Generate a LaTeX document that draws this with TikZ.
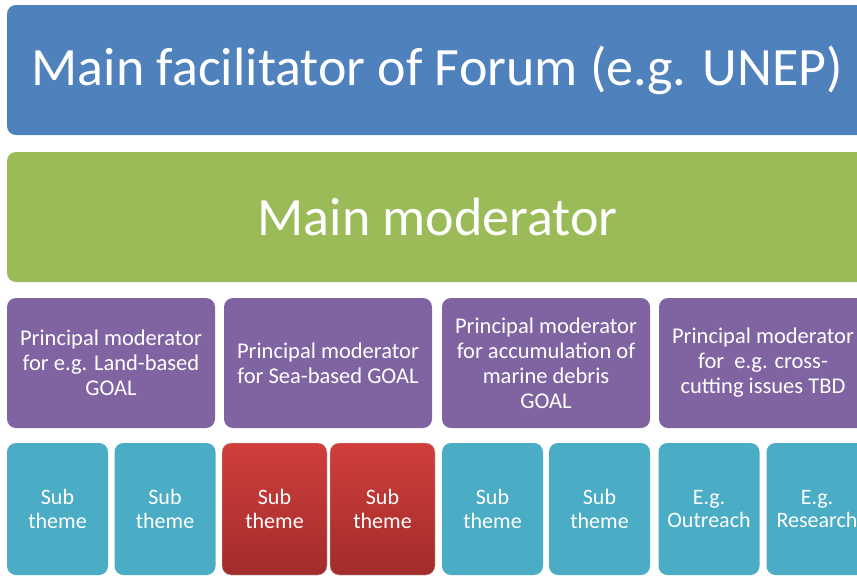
\documentclass[tikz,border=0pt]{standalone}
\usepackage{fontspec}
\setmainfont{Carlito}
\usepackage{tikz}
\usetikzlibrary{positioning}
\definecolor{FacBlue}{HTML}{4F81BD}
\definecolor{ModGreen}{HTML}{9BBB59}
\definecolor{GoalPurple}{HTML}{8064A2}
\definecolor{ThemeTeal}{HTML}{4BACC6}
\definecolor{ThemeRedTop}{HTML}{D03E3B}
\definecolor{ThemeRedBot}{HTML}{A22C2A}

\begin{document}
\begin{tikzpicture}[
      x=1pt, y=-1pt,
      every node/.style={align=center, text=white, inner sep=0pt},
      bar/.style={fill=#1, rounded corners=9pt, minimum width=861pt, minimum height=130pt,
        font=\fontsize{54}{60}\selectfont},
      goal/.style={fill=GoalPurple, rounded corners=9pt, minimum width=208pt, minimum height=130pt,
        font=\fontsize{22.5}{25}\selectfont},
      theme/.style={fill=ThemeTeal, rounded corners=9pt, minimum width=101pt, minimum height=132pt,
        font=\fontsize{22}{23.5}\selectfont},
      redtheme/.style={theme, top color=ThemeRedTop, bottom color=ThemeRedBot, draw=black!15}
    ]
      \useasboundingbox (0,0) rectangle (857,576);
      \clip (0,0) rectangle (857,576);

      \node[bar=FacBlue] (facilitator) at (437.5,70) {Main facilitator of Forum (e.g. UNEP)};
      \node[bar=ModGreen] (moderator) at (437.5,217) {Main moderator};

      % principal moderators
      \node[goal] (land) at (111,363) {Principal moderator\\for e.g. Land-based\\GOAL};
      \node[goal] (sea) at (328,363) {Principal moderator\\for Sea-based GOAL};
      \node[goal] (debris) at (546,363) {Principal moderator\\for accumulation of\\marine debris\\GOAL};
      \node[goal] (cross) at (763,363) {Principal moderator\\for\ \ e.g. cross-\\cutting issues TBD};

      % sub themes
      \node[theme] (landA) at (57.5,509) {Sub\\theme};
      \node[theme] (landB) at (165,509) {Sub\\theme};
      \node[redtheme, minimum width=105pt] (seaA) at (274.5,509) {Sub\\theme};
      \node[redtheme, minimum width=105pt] (seaB) at (382.5,509) {Sub\\theme};
      \node[theme] (debrisA) at (492.5,509) {Sub\\theme};
      \node[theme] (debrisB) at (599.5,509) {Sub\\theme};
      \node[theme] (crossA) at (709,509) {E.g.\\Outreach};
      \node[theme] (crossB) at (817,509) {E.g.\\Research};

    \end{tikzpicture}
\end{document}
